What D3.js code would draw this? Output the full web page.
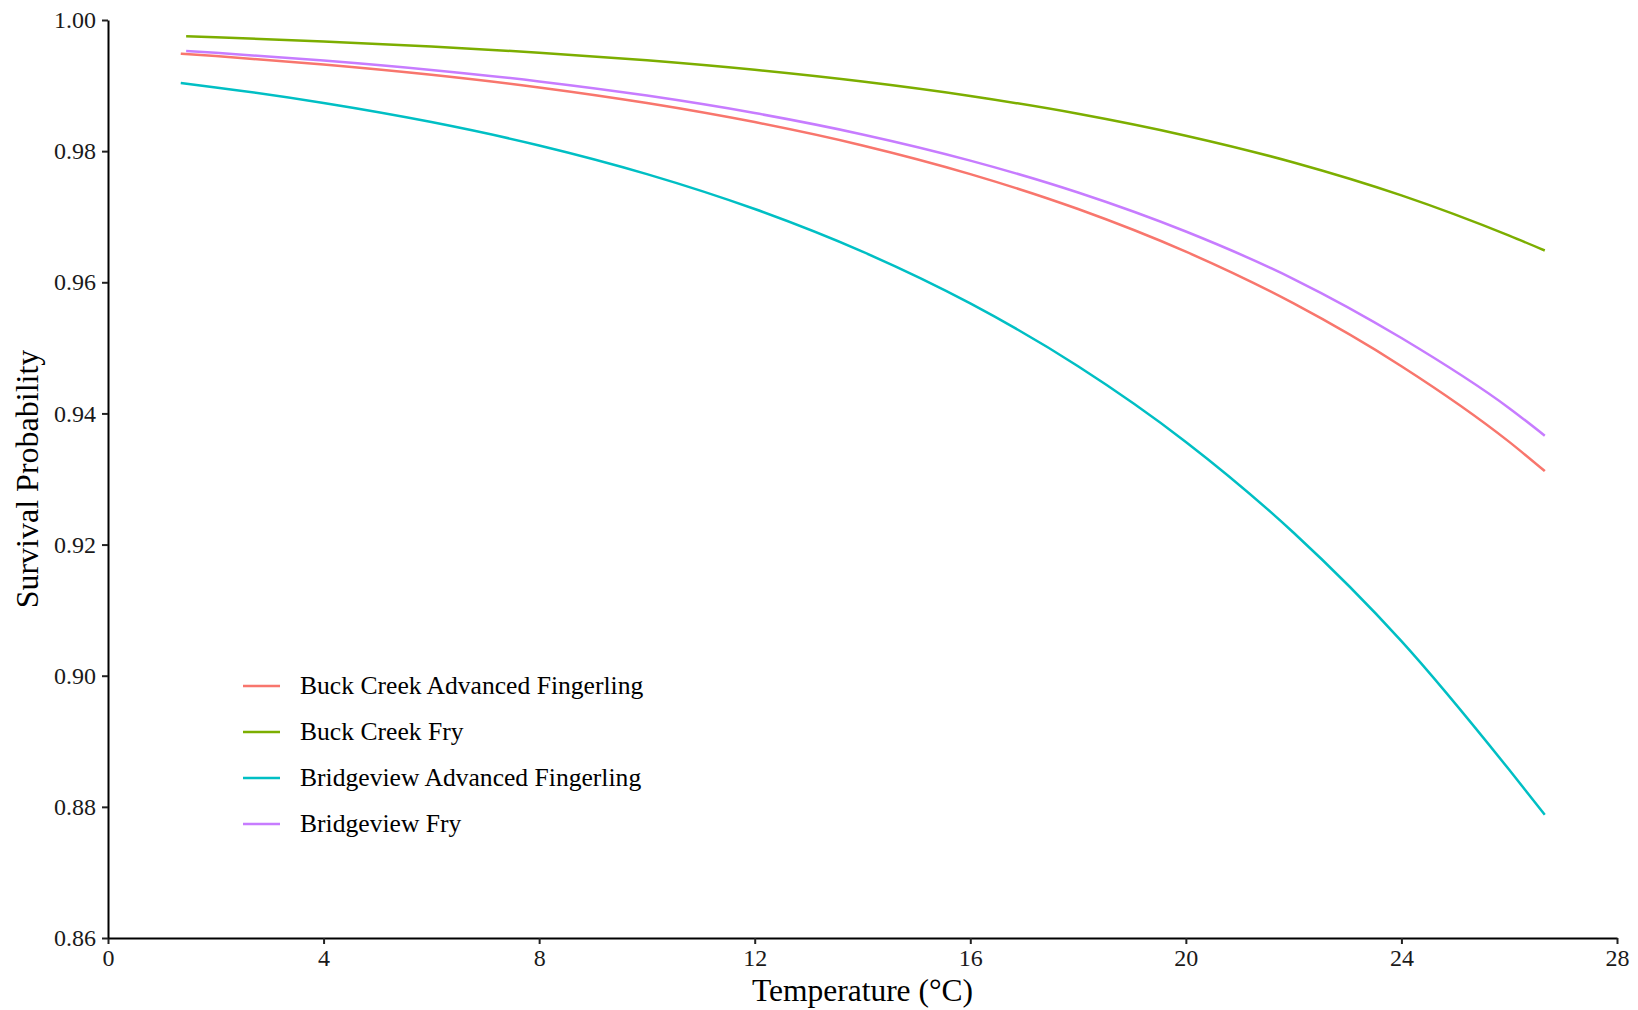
<!DOCTYPE html>
<html>
<head>
<meta charset="utf-8">
<script src="https://cdn.jsdelivr.net/npm/d3@7"></script>
<style>
  body { margin: 0; background: #fff; }
  svg text { font-family: "Liberation Serif", "Times New Roman", serif; }
</style>
</head>
<body>
<script>
// values
const seriesNames = [
  'Buck Creek Advanced Fingerling',
  'Buck Creek Fry',
  'Bridgeview Advanced Fingerling',
  'Bridgeview Fry'
];
const colors = ['#F8766D', '#7CAE00', '#00BFC4', '#C77CFF'];

const tempAF  = [1.35, 2, 4, 6, 8, 10, 12, 14, 16, 18, 20, 22, 24, 26, 26.66];
const tempFry = [1.45, 2, 4, 6, 8, 10, 12, 14, 16, 18, 20, 22, 24, 26, 26.66];

const buckAF   = [0.99486, 0.99450, 0.99322, 0.99165, 0.98972, 0.98734, 0.98443, 0.98087, 0.97650, 0.97117, 0.96467, 0.95677, 0.94720, 0.93566, 0.93120];
const buckFry  = [0.99752, 0.99737, 0.99674, 0.99597, 0.99502, 0.99385, 0.99240, 0.99061, 0.98841, 0.98570, 0.98236, 0.97827, 0.97325, 0.96711, 0.96485];
const bridgeAF = [0.99039, 0.98972, 0.98734, 0.98443, 0.98087, 0.97650, 0.97117, 0.96467, 0.95677, 0.94720, 0.93566, 0.92180, 0.90527, 0.88565, 0.87880];
const bridgeFry= [0.99527, 0.99499, 0.99383, 0.99239, 0.99063, 0.98847, 0.98581, 0.98255, 0.97856, 0.97369, 0.96774, 0.96050, 0.95150, 0.94080, 0.93660];

const xTicks = [0, 4, 8, 12, 16, 20, 24, 28];
const yTicks = [0.86, 0.88, 0.90, 0.92, 0.94, 0.96, 0.98, 1.00];

const W = 1638, H = 1010;
const mLeft = 108, mRight = 1617, mTop = 20, mBottom = 938;
const serif = '"Liberation Serif", "Times New Roman", serif';

const x = d3.scaleLinear().domain([0, 28]).range([mLeft, mRight]);
const y = d3.scaleLinear().domain([0.86, 1.00]).range([mBottom, mTop]);

const svg = d3.select('body').append('svg')
    .attr('width', W)
    .attr('height', H)
    .attr('font-family', serif);

const series = [
  {name: seriesNames[0], t: tempAF,  v: buckAF,    color: colors[0]},
  {name: seriesNames[1], t: tempFry, v: buckFry,   color: colors[1]},
  {name: seriesNames[2], t: tempAF,  v: bridgeAF,  color: colors[2]},
  {name: seriesNames[3], t: tempFry, v: bridgeFry, color: colors[3]}
];

const line = d3.line()
    .x(d => x(d[0]))
    .y(d => y(d[1]))
    .curve(d3.curveMonotoneX);

svg.selectAll('path.series')
    .data(series)
    .enter()
    .append('path')
    .attr('class', 'series')
    .attr('fill', 'none')
    .attr('stroke', d => d.color)
    .attr('stroke-width', 2.5)
    .attr('d', d => line(d.t.map((t, i) => [t, d.v[i]])));

// axes
const xAxis = svg.append('g')
    .attr('transform', `translate(0,${mBottom})`)
    .call(d3.axisBottom(x).tickValues(xTicks).tickSize(6).tickSizeOuter(0).tickPadding(5));
const yAxis = svg.append('g')
    .attr('transform', `translate(${mLeft},0)`)
    .call(d3.axisLeft(y).tickValues(yTicks).tickFormat(d3.format('.2f')).tickSize(6).tickSizeOuter(0).tickPadding(6));

[xAxis, yAxis].forEach(g => {
  g.attr('font-family', serif).attr('font-size', 24);
  g.select('.domain').attr('stroke', '#000').attr('stroke-width', 2);
  g.selectAll('.tick line').attr('stroke', '#222').attr('stroke-width', 2);
  g.selectAll('.tick text')
    .attr('fill', '#1a1a1a')
    .attr('font-family', serif)
    .attr('font-size', 24);
});

svg.append('text')
    .attr('x', (mLeft + mRight) / 2)
    .attr('y', 1001)
    .attr('text-anchor', 'middle')
    .attr('font-size', 31.5)
    .text('Temperature (°C)');

svg.append('text')
    .attr('transform', `translate(38,${(mTop + mBottom) / 2}) rotate(-90)`)
    .attr('text-anchor', 'middle')
    .attr('font-size', 32)
    .text('Survival Probability');

// legend
const legend = svg.append('g');
const rows = legend.selectAll('g')
    .data(series)
    .enter()
    .append('g')
    .attr('transform', (d, i) => `translate(0,${686 + i * 46})`);
rows.append('line')
    .attr('x1', 243).attr('x2', 280)
    .attr('stroke', d => d.color)
    .attr('stroke-width', 2.6);
rows.append('text')
    .attr('x', 300)
    .attr('dy', '0.33em')
    .attr('font-size', 25.6)
    .text(d => d.name);
</script>
</body>
</html>
